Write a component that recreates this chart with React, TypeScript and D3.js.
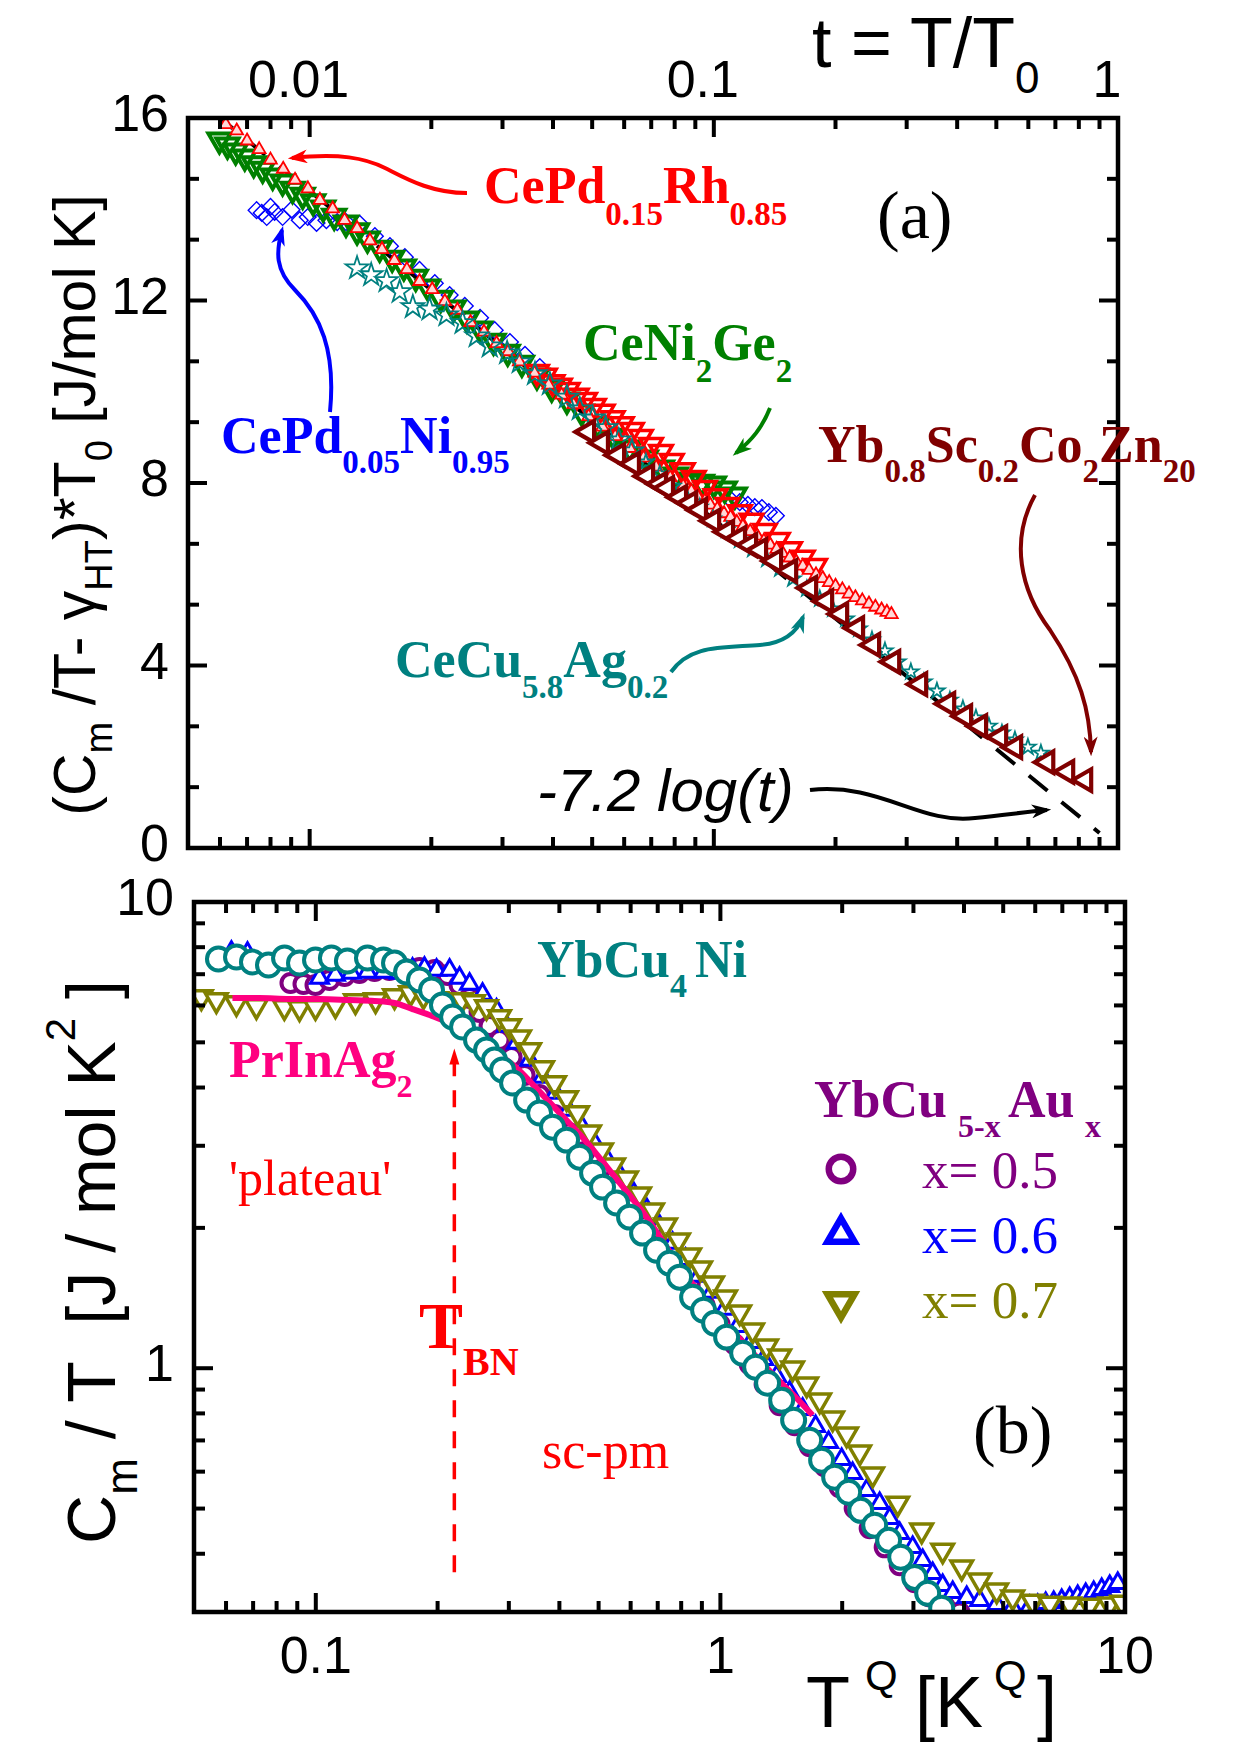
import React, { useEffect, useRef } from 'react';
import * as d3 from 'd3';

// ---------- panel (a): t = T/T0  vs  (Cm/T - gammaHT)*T0 [J/mol K] ----------
const tDomain = [0.005, 1];
const yADomain = [0, 16];
const tLabels = [0.01, 0.1, 1];
const yALabels = [0, 4, 8, 12, 16];
const fitSlope = -7.2;
const fitT = [0.0058, 0.9];

// CePd0.15Rh0.85, small open triangles
const rhSmall = [
  [0.0062, 15.86], [0.0066, 15.72], [0.007, 15.5], [0.0075, 15.31], [0.008, 15.08], [0.0086, 14.88],
  [0.0092, 14.64], [0.0099, 14.45], [0.0106, 14.2], [0.0114, 14.01], [0.0122, 13.76], [0.0131, 13.58],
  [0.0141, 13.31], [0.0151, 13.12], [0.0162, 12.88], [0.0174, 12.68], [0.0187, 12.42], [0.0201, 12.24],
  [0.0216, 11.98], [0.0232, 11.79], [0.025, 11.52], [0.027, 11.31], [0.029, 11.06], [0.031, 10.88],
  [0.033, 10.66], [0.036, 10.41], [0.039, 10.15], [0.042, 9.93], [0.045, 9.72], [0.049, 9.46],
  [0.053, 9.23], [0.057, 9.02], [0.062, 8.76], [0.067, 8.55], [0.072, 8.35], [0.078, 8.12],
  [0.084, 7.93], [0.088, 7.82], [0.091, 7.72], [0.095, 7.61], [0.098, 7.52], [0.102, 7.43],
  [0.106, 7.33], [0.11, 7.25], [0.114, 7.14], [0.118, 7.05], [0.123, 6.94], [0.128, 6.84],
  [0.133, 6.73], [0.138, 6.64], [0.143, 6.55], [0.148, 6.46], [0.154, 6.36], [0.16, 6.27],
  [0.166, 6.18], [0.172, 6.09], [0.179, 5.99], [0.186, 5.91], [0.193, 5.82], [0.2, 5.74],
  [0.208, 5.66], [0.216, 5.57], [0.224, 5.49], [0.233, 5.42], [0.242, 5.35], [0.251, 5.28],
  [0.26, 5.22], [0.268, 5.17], [0.275, 5.12],
];
// CePd0.15Rh0.85, large open down-triangles
const rhBig = [
  [0.0365, 10.43], [0.0382, 10.35], [0.0399, 10.21], [0.0416, 10.13], [0.0435, 10.04], [0.0458, 9.91],
  [0.048, 9.82], [0.0505, 9.69], [0.0531, 9.56], [0.0562, 9.42], [0.0592, 9.29], [0.0627, 9.16],
  [0.066, 9.01], [0.0699, 8.83], [0.074, 8.68], [0.0787, 8.48], [0.0838, 8.28], [0.0892, 8.11],
  [0.095, 7.89], [0.101, 7.71], [0.108, 7.52], [0.116, 7.36], [0.124, 7.17], [0.1337, 6.95],
  [0.144, 6.75], [0.1543, 6.55], [0.166, 6.36], [0.178, 6.18],
];
// CeNi2Ge2
const niGe = [
  [0.00598, 15.52], [0.00626, 15.41], [0.00656, 15.28], [0.00691, 15.15], [0.00727, 15.0], [0.00765, 14.88],
  [0.0081, 14.73], [0.00857, 14.6], [0.00907, 14.44], [0.00961, 14.31], [0.0102, 14.17], [0.0108, 14.03],
  [0.0115, 13.85], [0.0123, 13.7], [0.0131, 13.53], [0.0139, 13.35], [0.0149, 13.15], [0.016, 12.93],
  [0.0171, 12.74], [0.0183, 12.51], [0.0196, 12.3], [0.0211, 12.05], [0.0227, 11.84], [0.0245, 11.6],
  [0.0264, 11.38], [0.0285, 11.11], [0.0309, 10.87], [0.0335, 10.63], [0.0365, 10.35], [0.0397, 10.08],
  [0.0433, 9.82], [0.0471, 9.56], [0.0516, 9.29], [0.0565, 9.03], [0.0619, 8.77], [0.0679, 8.55],
  [0.0744, 8.33], [0.0805, 8.18], [0.0872, 8.07], [0.0934, 8.02], [0.1, 7.98], [0.1064, 7.87], [0.1127, 7.74],
];
// CePd0.05Ni0.95
const pdNi = [
  [0.00739, 13.98], [0.00761, 13.92], [0.00783, 13.83], [0.008, 14.05], [0.00819, 13.94], [0.00857, 13.83],
  [0.00902, 13.99], [0.00945, 13.76], [0.00989, 13.83], [0.0104, 13.7], [0.011, 13.76], [0.0117, 13.72],
  [0.0123, 13.72], [0.0133, 13.68], [0.0145, 13.41], [0.0158, 13.19], [0.0172, 12.95], [0.0187, 12.67],
  [0.0204, 12.38], [0.0222, 12.12], [0.0242, 11.88], [0.0264, 11.62], [0.0287, 11.35], [0.0313, 11.09],
  [0.0341, 10.81], [0.0371, 10.54], [0.1096, 7.65], [0.1159, 7.58], [0.1214, 7.52], [0.1263, 7.47],
  [0.1315, 7.45], [0.1368, 7.36], [0.1424, 7.28],
];
// CeCu5.8Ag0.2, low t (large stars)
const cuAgLow = [
  [0.0131, 12.71], [0.0142, 12.56], [0.0155, 12.43], [0.0167, 12.19], [0.018, 11.86], [0.0198, 11.81],
  [0.0218, 11.68], [0.0239, 11.51], [0.0259, 11.22], [0.0279, 11.0], [0.0308, 10.85], [0.0331, 10.65],
  [0.0361, 10.39], [0.0393, 10.17], [0.0433, 9.88], [0.0466, 9.62], [0.0502, 9.42], [0.054, 9.21],
  [0.0582, 8.94], [0.0627, 8.7],
];
// CeCu5.8Ag0.2, high t (small stars)
const cuAgHigh = [
  [0.0679, 8.46], [0.0735, 8.2], [0.0792, 7.93], [0.0858, 7.69], [0.0923, 7.47], [0.0995, 7.21],
  [0.1077, 6.97], [0.1159, 6.75], [0.1249, 6.55], [0.1353, 6.33], [0.1457, 6.12], [0.1569, 5.9],
  [0.1699, 5.68], [0.1829, 5.46], [0.1971, 5.24], [0.2123, 5.02], [0.2286, 4.8], [0.2462, 4.56],
  [0.2651, 4.32], [0.2853, 4.08], [0.3073, 3.86], [0.3309, 3.64], [0.3564, 3.44], [0.3838, 3.24],
  [0.4133, 3.05], [0.4451, 2.85], [0.4793, 2.67], [0.5162, 2.52], [0.5559, 2.37], [0.5986, 2.21], [0.6446, 2.08],
];
// Yb0.8Sc0.2Co2Zn20
const ybSc = [
  [0.0488, 9.12], [0.0528, 8.88], [0.0579, 8.61], [0.063, 8.42], [0.0683, 8.15], [0.0735, 7.98],
  [0.0765, 7.89], [0.0824, 7.69], [0.0873, 7.56], [0.0923, 7.41], [0.0995, 7.17], [0.1077, 6.93],
  [0.1153, 6.79], [0.1228, 6.64], [0.13, 6.53], [0.1416, 6.29], [0.1543, 6.07], [0.1729, 5.7],
  [0.1894, 5.41], [0.2063, 5.13], [0.2259, 4.82], [0.2475, 4.45], [0.2775, 4.08], [0.3236, 3.59],
  [0.3796, 3.16], [0.418, 2.89], [0.4553, 2.67], [0.5104, 2.43], [0.5559, 2.21], [0.6676, 1.88],
  [0.7478, 1.67], [0.8285, 1.49],
];

// ---------- panel (b): T^Q [K^Q]  vs  Cm/T [J/mol K^2] ----------
const TDomain = [0.05, 10];
const yBDomain = [0.3, 10];
const TLabels = [0.1, 1, 10];
const yBLabels = [1, 10];

// YbCu4Ni
const ybCu4Ni = [
  [0.05747, 7.546], [0.06368, 7.621], [0.06973, 7.434], [0.07639, 7.325], [0.0837, 7.583], [0.09114, 7.398],
  [0.09983, 7.508], [0.1093, 7.583], [0.1197, 7.472], [0.1342, 7.583], [0.147, 7.508], [0.1565, 7.398],
  [0.1676, 7.075], [0.1804, 6.801], [0.1932, 6.475], [0.2056, 6.012], [0.2178, 5.666], [0.2305, 5.393],
  [0.2496, 5.056], [0.2642, 4.813], [0.2765, 4.58], [0.2894, 4.36], [0.3064, 4.089], [0.3319, 3.759],
  [0.3573, 3.526], [0.3847, 3.289], [0.4167, 3.085], [0.4486, 2.836], [0.4831, 2.621], [0.5113, 2.446],
  [0.5538, 2.261], [0.5963, 2.109], [0.6421, 1.949], [0.6954, 1.791], [0.7488, 1.68], [0.7928, 1.568],
  [0.8538, 1.42], [0.9088, 1.332], [0.9676, 1.249], [1.036, 1.166], [1.135, 1.077], [1.222, 1.005],
  [1.308, 0.9286], [1.417, 0.8537], [1.517, 0.7734], [1.662, 0.7006], [1.779, 0.6348], [1.916, 0.5835],
  [2.075, 0.5418], [2.222, 0.4956], [2.406, 0.4603], [2.605, 0.4274], [2.79, 0.393], [3.021, 0.3559],
  [3.253, 0.329], [3.523, 0.3055],
];
// YbCu5-xAux, x = 0.5
const au05 = [
  [0.08658, 6.702], [0.09324, 6.668], [0.09983, 6.636], [0.1081, 6.801], [0.1178, 6.937], [0.1282, 7.041],
  [0.1397, 7.11], [0.1521, 7.145], [0.1657, 7.18], [0.1804, 7.216], [0.1965, 7.145], [0.2116, 6.972],
  [0.2266, 6.636], [0.2399, 6.223], [0.2539, 5.807], [0.2688, 5.419], [0.2845, 5.056], [0.3047, 4.65],
  [0.3281, 4.254], [0.3573, 3.853], [0.3891, 3.491], [0.4238, 3.193], [0.4616, 2.908], [0.5028, 2.66],
  [0.5476, 2.41], [0.5963, 2.204], [0.6496, 2.017], [0.7075, 1.827], [0.7706, 1.663], [0.8394, 1.507],
  [0.914, 1.365], [0.9954, 1.243], [1.084, 1.126], [1.181, 1.02], [1.286, 0.924], [1.401, 0.8329],
  [1.526, 0.7545], [1.662, 0.6801], [1.81, 0.6163], [1.971, 0.5555], [2.147, 0.5007], [2.338, 0.4536],
  [2.547, 0.4128], [2.774, 0.3778], [3.021, 0.3474], [3.29, 0.3241], [3.584, 0.3084], [3.903, 0.2994],
];
// x = 0.6
const au06 = [
  [0.06186, 7.811], [0.06779, 7.773], [0.1021, 6.869], [0.1118, 6.972], [0.1225, 7.041], [0.1342, 7.075],
  [0.147, 7.075], [0.161, 7.041], [0.1734, 7.18], [0.1856, 7.216], [0.1988, 7.145], [0.2141, 7.145],
  [0.2266, 6.869], [0.2399, 6.668], [0.2583, 6.348], [0.2797, 5.866], [0.2961, 5.419], [0.3135, 4.983],
  [0.3376, 4.58], [0.3635, 4.212], [0.3914, 3.892], [0.4214, 3.578], [0.4538, 3.306], [0.4887, 3.04],
  [0.5262, 2.795], [0.5666, 2.582], [0.6101, 2.374], [0.657, 2.194], [0.7075, 2.017], [0.7618, 1.855],
  [0.8204, 1.713], [0.8834, 1.576], [0.951, 1.456], [1.024, 1.339], [1.103, 1.23], [1.188, 1.137],
  [1.279, 1.045], [1.377, 0.9612], [1.483, 0.8881], [1.597, 0.8166], [1.719, 0.7507], [1.851, 0.6937],
  [1.994, 0.6378], [2.122, 0.5952], [2.298, 0.5472], [2.475, 0.5131], [2.62, 0.4765], [2.774, 0.4424],
  [2.987, 0.4128], [3.162, 0.3873], [3.347, 0.3632], [3.543, 0.3422], [3.751, 0.3306], [4.062, 0.3226],
  [4.375, 0.3178], [4.818, 0.3116], [5.278, 0.307], [5.815, 0.3085], [6.085, 0.31], [6.368, 0.3131],
  [6.665, 0.3146], [6.975, 0.3178], [7.3, 0.3209], [7.64, 0.3241], [7.996, 0.3273], [8.368, 0.3306],
  [8.758, 0.3356], [9.168, 0.3406], [9.596, 0.3456],
];
// x = 0.7
const au07 = [
  [0.05213, 6.254], [0.05678, 6.163], [0.06365, 6.073], [0.07131, 5.984], [0.08363, 5.955], [0.09114, 5.925],
  [0.09983, 5.955], [0.1118, 6.012], [0.1253, 6.132], [0.1405, 6.163], [0.1565, 6.285], [0.1714, 6.379],
  [0.1845, 6.285], [0.1988, 6.194], [0.2141, 6.163], [0.2292, 6.163], [0.2454, 6.103], [0.2642, 5.955],
  [0.2845, 5.666], [0.3012, 5.419], [0.3189, 5.131], [0.3376, 4.813], [0.3635, 4.404], [0.3891, 4.089],
  [0.4167, 3.797], [0.4436, 3.526], [0.4749, 3.209], [0.5084, 2.936], [0.5445, 2.727], [0.5862, 2.557],
  [0.6313, 2.362], [0.6797, 2.183], [0.7319, 2.027], [0.788, 1.883], [0.8394, 1.748], [0.8934, 1.639],
  [0.9565, 1.522], [1.03, 1.42], [1.116, 1.319], [1.201, 1.206], [1.301, 1.115], [1.401, 1.061],
  [1.508, 1.0], [1.634, 0.924], [1.759, 0.8537], [1.894, 0.781], [2.051, 0.7218], [2.209, 0.6602],
  [2.378, 0.5922], [2.743, 0.5131], [3.144, 0.4492], [3.543, 0.4068], [3.948, 0.3741], [4.375, 0.3508],
  [4.818, 0.3339], [5.278, 0.3226], [5.913, 0.3162], [6.516, 0.3131], [7.3, 0.3116], [8.18, 0.31],
  [9.168, 0.3116], [9.815, 0.3146],
];
// PrInAg2 (line)
const prInAg2 = [
  [0.06223, 6.223], [0.07261, 6.223], [0.0861, 6.194], [0.1021, 6.194], [0.1211, 6.163], [0.1397, 6.132],
  [0.1565, 6.073], [0.1734, 5.894], [0.191, 5.722], [0.2056, 5.583], [0.2266, 5.366], [0.2468, 5.131],
  [0.2688, 4.884], [0.2894, 4.65], [0.3135, 4.404], [0.3414, 4.089], [0.3719, 3.778], [0.4074, 3.474],
  [0.4486, 3.178], [0.4943, 2.879], [0.5414, 2.608], [0.5963, 2.351], [0.657, 2.109], [0.7199, 1.873],
  [0.7928, 1.655], [0.8734, 1.477], [0.9565, 1.332], [1.054, 1.218], [1.161, 1.115], [1.271, 1.025],
  [1.401, 0.9378], [1.543, 0.8622], [1.69, 0.7927],
];
const tBN = 0.22;
const tBNArrow = [0.365, 4.85];

const sans = 'Liberation Sans, Arial, Helvetica, sans-serif';
const serif = 'Liberation Serif, Times New Roman, Times, serif';

const App = () => {
  const svgRef = useRef(null);

  useEffect(() => {
    const svg = d3.select(svgRef.current);
    svg.selectAll('*').remove();

    const A = { l: 188, r: 1118, t: 118, b: 848 };
    const B = { l: 194, r: 1125, t: 902, b: 1612 };

    const xA = d3.scaleLog().domain(tDomain).range([A.l, A.r]);
    const yA = d3.scaleLinear().domain(yADomain).range([A.b, A.t]);
    const xB = d3.scaleLog().domain(TDomain).range([B.l, B.r]);
    const yB = d3.scaleLog().domain(yBDomain).range([B.b, B.t]);

    const defs = svg.append('defs');
    [['clipA', A], ['clipB', B]].forEach(([id, bx]: any) => {
      defs.append('clipPath').attr('id', id).append('rect')
        .attr('x', bx.l).attr('y', bx.t).attr('width', bx.r - bx.l).attr('height', bx.b - bx.t);
    });
    const arrowCols = { red: '#ff0000', blue: '#0000ff', green: '#008000', teal: '#008080', dred: '#800000', black: '#000000' };
    Object.entries(arrowCols).forEach(([k, c]) => {
      defs.append('marker').attr('id', `arr-${k}`).attr('viewBox', '0 0 14 10')
        .attr('refX', 11).attr('refY', 5).attr('markerWidth', 20).attr('markerHeight', 14)
        .attr('markerUnits', 'userSpaceOnUse').attr('orient', 'auto')
        .append('path').attr('d', 'M0,0 L14,5 L0,10 L4,5 Z').attr('fill', c);
    });

    // rich text with sub/superscripts
    const rich = (parent, x, y, pieces, o) => {
      const t = parent.append('text').attr('x', x).attr('y', y)
        .attr('font-family', o.family).attr('font-size', o.size)
        .attr('font-weight', o.weight || 'normal').attr('font-style', o.style || 'normal')
        .attr('fill', o.color || '#000').attr('text-anchor', o.anchor || 'start')
        .style('white-space', 'pre');
      if (o.transform) t.attr('transform', o.transform);
      let prev = 0;
      pieces.forEach((p) => {
        const sh = p.shift || 0;
        const ts = t.append('tspan').text(p.s).attr('dy', sh - prev);
        if (p.size) ts.attr('font-size', p.size);
        if (p.x !== undefined) ts.attr('x', p.x);
        prev = sh;
      });
      return t;
    };

    const isMajor = (v) => Math.abs(Math.log10(v) - Math.round(Math.log10(v))) < 1e-6;

    const frame = (bx, xs, xTicks, yTicks) => {
      const g = svg.append('g').attr('stroke', '#000').attr('stroke-width', 4);
      const major = 19, minor = 11;
      xTicks.forEach(([v, m]) => {
        const x = xs(v);
        const len = m ? major : minor;
        g.append('line').attr('x1', x).attr('x2', x).attr('y1', bx.b).attr('y2', bx.b - len);
        g.append('line').attr('x1', x).attr('x2', x).attr('y1', bx.t).attr('y2', bx.t + len);
      });
      yTicks.forEach(([py, m]) => {
        const len = m ? major : minor;
        g.append('line').attr('y1', py).attr('y2', py).attr('x1', bx.l).attr('x2', bx.l + len);
        g.append('line').attr('y1', py).attr('y2', py).attr('x1', bx.r).attr('x2', bx.r - len);
      });
      svg.append('rect').attr('x', bx.l).attr('y', bx.t).attr('width', bx.r - bx.l).attr('height', bx.b - bx.t)
        .attr('fill', 'none').attr('stroke', '#000').attr('stroke-width', 4.5);
    };

    const logTicks = (s) => s.ticks().filter((v) => {
      const d = s.domain();
      return v > d[0] * 1.0001 && v < d[1] * 0.9999;
    }).map((v) => [v, isMajor(v)]);

    const symbols = (g, data, xs, ys, o) => {
      g.append('g').selectAll('path').data(data).join('path')
        .attr('d', d3.symbol().type(o.type).size(o.size))
        .attr('transform', (d) => `translate(${xs(d[0])},${ys(d[1])}) rotate(${o.rot || 0})`)
        .attr('fill', o.fill || 'none').attr('stroke', o.stroke).attr('stroke-width', o.width)
        .attr('stroke-linejoin', 'miter');
    };

    // ================= panel (a) =================
    const gA = svg.append('g').attr('clip-path', 'url(#clipA)');
    gA.append('line')
      .attr('x1', xA(fitT[0])).attr('y1', yA(fitSlope * Math.log10(fitT[0])))
      .attr('x2', xA(fitT[1])).attr('y2', yA(fitSlope * Math.log10(fitT[1])))
      .attr('stroke', '#000').attr('stroke-width', 4).attr('stroke-dasharray', '24 18');
    symbols(gA, pdNi, xA, yA, { type: d3.symbolSquare, size: 140, rot: 45, stroke: '#0000ff', width: 1.4 });
    symbols(gA, niGe, xA, yA, { type: d3.symbolTriangle, size: 210, rot: 180, stroke: '#008000', width: 4 });
    symbols(gA, rhBig, xA, yA, { type: d3.symbolTriangle, size: 220, rot: 180, stroke: '#ff0000', width: 3.5 });
    symbols(gA, rhSmall, xA, yA, { type: d3.symbolTriangle, size: 70, rot: 0, stroke: '#ff0000', width: 1.8, fill: '#ffd8d8' });
    symbols(gA, cuAgLow, xA, yA, { type: d3.symbolStar, size: 160, rot: 0, stroke: '#008080', width: 1.8 });
    symbols(gA, cuAgHigh, xA, yA, { type: d3.symbolStar, size: 75, rot: 0, stroke: '#008080', width: 1.8 });
    symbols(gA, ybSc, xA, yA, { type: d3.symbolTriangle, size: 200, rot: -90, stroke: '#800000', width: 4.2, fill: '#fff' });

    const yAMinor = d3.range(0, 13).map((i) => [yA((i * 4) / 3), i % 3 === 0]).filter(([py]) => py < A.b - 1 && py > A.t + 1);
    frame(A, xA, logTicks(xA), yAMinor);

    tLabels.forEach((v) => {
      svg.append('text').attr('x', xA(v) - 11).attr('y', 97).attr('text-anchor', 'middle')
        .attr('font-family', sans).attr('font-size', 52).text(String(v));
    });
    yALabels.forEach((v) => {
      svg.append('text').attr('x', 169).attr('y', yA(v) + 13).attr('text-anchor', 'end')
        .attr('font-family', sans).attr('font-size', 52).text(String(v));
    });
    rich(svg, 812, 67, [{ s: 't = T/T' }, { s: '0', shift: 26, size: 44 }], { family: sans, size: 70 });
    rich(svg, 0, 0, [
      { s: '(C' }, { s: 'm', shift: 17, size: 38 }, { s: ' /T- γ' }, { s: 'HT', shift: 17, size: 38 },
      { s: ')*T' }, { s: '0', shift: 17, size: 38 }, { s: ' [J/mol K]' },
    ], { family: sans, size: 59, anchor: 'middle', transform: 'translate(95,505) rotate(-90)' });

    const lbl = (x, y, color, size, sub, subShift, parts) =>
      rich(svg, x, y, parts.map((p, i) => (i % 2 === 1 ? { s: p, shift: subShift, size: sub } : { s: p })),
        { family: serif, size, weight: 'bold', color });
    lbl(484, 203, '#ff0000', 52, 33, 22, ['CePd', '0.15', 'Rh', '0.85']);
    lbl(583, 360, '#008000', 52, 33, 22, ['CeNi', '2', 'Ge', '2']);
    lbl(221, 453, '#0000ff', 52, 33, 20, ['CePd', '0.05', 'Ni', '0.95']);
    lbl(395, 677, '#008080', 52, 33, 21, ['CeCu', '5.8', 'Ag', '0.2']);
    lbl(818, 462, '#800000', 52, 33, 20, ['Yb', '0.8', 'Sc', '0.2', 'Co', '2', 'Zn', '20']);
    svg.append('text').attr('x', 877).attr('y', 238).attr('font-family', serif).attr('font-size', 68).text('(a)');
    svg.append('text').attr('x', 537).attr('y', 811).attr('font-family', sans).attr('font-size', 60)
      .attr('font-style', 'italic').text('-7.2 log(t)');

    const arrow = (d, key, col) => svg.append('path').attr('d', d).attr('fill', 'none').attr('stroke', col)
      .attr('stroke-width', 4).attr('marker-end', `url(#arr-${key})`);
    arrow('M467,193 C430,193 405,178 385,168 C365,158 340,153 292,158', 'red', '#ff0000');
    arrow('M330,412 C336,350 320,315 295,290 C275,270 276,252 282,230', 'blue', '#0000ff');
    arrow('M770,408 C762,428 752,440 736,453', 'green', '#008000');
    arrow('M671,672 C690,645 720,648 760,645 C785,643 797,632 803,617', 'teal', '#008080');
    arrow('M1035,495 C1010,540 1020,590 1050,630 C1080,675 1090,710 1091,752', 'dred', '#800000');
    arrow('M810,790 C880,782 920,825 975,818 C1005,815 1025,812 1047,810', 'black', '#000');

    // ================= panel (b) =================
    const gB = svg.append('g').attr('clip-path', 'url(#clipB)');
    symbols(gB, au05, xB, yB, { type: d3.symbolCircle, size: Math.PI * 81, stroke: '#800080', width: 4, fill: '#fff' });
    symbols(gB, au06, xB, yB, { type: d3.symbolTriangle, size: 140, rot: 0, stroke: '#0000ff', width: 3, fill: '#fff' });
    symbols(gB, au07, xB, yB, { type: d3.symbolTriangle, size: 200, rot: 180, stroke: '#808000', width: 3.5, fill: '#fff' });
    gB.append('path').datum(prInAg2)
      .attr('d', d3.line().x((d) => xB(d[0])).y((d) => yB(d[1])).curve(d3.curveMonotoneX))
      .attr('fill', 'none').attr('stroke', '#ff0080').attr('stroke-width', 6);
    symbols(gB, ybCu4Ni, xB, yB, { type: d3.symbolCircle, size: Math.PI * 132, stroke: '#008080', width: 4, fill: '#fff' });

    frame(B, xB, logTicks(xB), logTicks(yB).map(([v, m]) => [yB(v), m]));

    TLabels.forEach((v) => {
      svg.append('text').attr('x', xB(v)).attr('y', 1673).attr('text-anchor', 'middle')
        .attr('font-family', sans).attr('font-size', 52).text(String(v));
    });
    yBLabels.forEach((v) => {
      svg.append('text').attr('x', 174).attr('y', yB(v) + 13).attr('text-anchor', 'end')
        .attr('font-family', sans).attr('font-size', 52).text(String(v));
    });
    rich(svg, 0, 0, [
      { s: 'C' }, { s: 'm', shift: 22, size: 44 }, { s: ' / T  [J / mol K' }, { s: '2', shift: -40, size: 42 }, { s: ' ]' },
    ], { family: sans, size: 68, anchor: 'middle', transform: 'translate(115,1262) rotate(-90)' });
    rich(svg, 806, 1727, [
      { s: 'T' }, { s: 'Q', shift: -37, size: 42, x: 865 }, { s: '[K', x: 915 }, { s: 'Q', shift: -37, size: 42, x: 994 },
      { s: ']', x: 1037 },
    ], { family: sans, size: 72 });

    // annotations (b)
    const xT = xB(tBN);
    svg.append('line').attr('x1', xT).attr('x2', xT).attr('y1', yB(tBNArrow[0])).attr('y2', yB(tBNArrow[1]) + 14)
      .attr('stroke', '#ff0000').attr('stroke-width', 3.5).attr('stroke-dasharray', '17 14');
    svg.append('path').attr('d', `M${xT},${yB(tBNArrow[1])} l-5,16 l10,0 Z`).attr('fill', '#ff0000');

    rich(svg, 537, 977, [{ s: 'YbCu' }, { s: '4', shift: 20, size: 34 }, { s: 'Ni', x: 695 }], { family: serif, size: 52, weight: 'bold', color: '#008080' });
    rich(svg, 229, 1077, [{ s: 'PrInAg' }, { s: '2', shift: 20, size: 32 }], { family: serif, size: 52, weight: 'bold', color: '#ff0080' });
    svg.append('text').attr('x', 229).attr('y', 1195).attr('font-family', serif).attr('font-size', 50).attr('fill', '#ff0000').text("'plateau'");
    rich(svg, 419, 1348, [{ s: 'T' }, { s: 'BN', shift: 27, size: 40 }], { family: serif, size: 66, weight: 'bold', color: '#ff0000' });
    svg.append('text').attr('x', 542).attr('y', 1468).attr('font-family', serif).attr('font-size', 52).attr('fill', '#ff0000').text('sc-pm');
    svg.append('text').attr('x', 973).attr('y', 1453).attr('font-family', serif).attr('font-size', 68).text('(b)');

    // legend
    rich(svg, 814, 1117, [
      { s: 'YbCu' }, { s: '5-x', shift: 20, size: 32, x: 958 }, { s: 'Au', x: 1008 }, { s: 'x', shift: 20, size: 32, x: 1085 },
    ], { family: serif, size: 52, weight: 'bold', color: '#800080' });
    const leg = [
      { type: d3.symbolCircle, size: Math.PI * 150, rot: 0, color: '#800080', y: 1169, text: 'x= 0.5', ty: 1188 },
      { type: d3.symbolTriangle, size: 320, rot: 0, color: '#0000ff', y: 1234, text: 'x= 0.6', ty: 1253 },
      { type: d3.symbolTriangle, size: 320, rot: 180, color: '#808000', y: 1302, text: 'x= 0.7', ty: 1318 },
    ];
    leg.forEach((e) => {
      svg.append('path').attr('d', d3.symbol().type(e.type).size(e.size)())
        .attr('transform', `translate(841,${e.y}) rotate(${e.rot})`)
        .attr('fill', 'none').attr('stroke', e.color).attr('stroke-width', 6.5);
      svg.append('text').attr('x', 922).attr('y', e.ty).attr('font-family', serif).attr('font-size', 53)
        .attr('fill', e.color).text(e.text);
    });
  }, []);

  return (
    <div style={{ position: 'absolute', left: 0, top: 0, width: 1240, height: 1755, background: '#fff' }}>
      <svg ref={svgRef} width={1240} height={1755} style={{ display: 'block' }}></svg>
    </div>
  );
};

export default App;
